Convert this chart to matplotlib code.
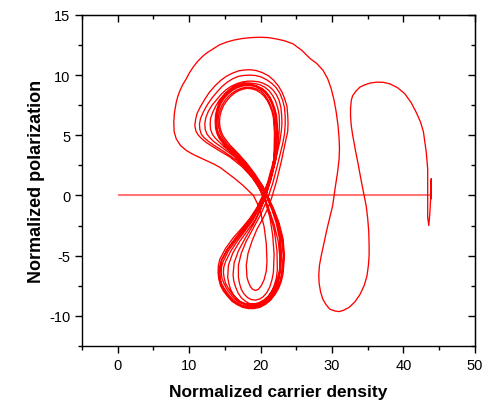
import numpy as np
import matplotlib
matplotlib.use("Agg")
import matplotlib.pyplot as plt
from matplotlib.ticker import MultipleLocator

plt.rcParams['font.family'] = ['Liberation Sans', 'DejaVu Sans']
plt.rcParams['axes.unicode_minus'] = False

# start-up: carrier density grows with no polarization
startup_n = [0.0, 43.9]
startup_p = [0.0, 0.0]

# relaxation near N~44 and the first large excursions (N, P)
transient = [
    (43.9, 0.0), (43.9, 1.4), (43.85, -0.3), (43.9, 1.2), (43.8, -0.4), (43.7, -1.5),
    (43.55, -2.5), (43.4, -1.8), (43.4, 0.0), (43.4, 2.2), (43.2, 3.6), (42.8, 5.3),
    (42.4, 6.1), (41.8, 6.9), (41.1, 7.7), (40.2, 8.45), (39.2, 8.95), (38.1, 9.28),
    (37.2, 9.4), (36.3, 9.42), (35.4, 9.35), (34.6, 9.2), (33.9, 9.0), (33.4, 8.7),
    (32.9, 8.3), (32.7, 7.9), (32.6, 7.2), (32.6, 6.6), (32.7, 5.8), (32.9, 5.0),
    (33.3, 3.7), (33.7, 2.5), (34.1, 1.2), (34.5, 0.0), (34.8, -0.9), (35.0, -1.9),
    (35.15, -3.0), (35.2, -4.15), (35.2, -5.0), (35.1, -5.8), (34.9, -6.7), (34.5, -7.5),
    (33.9, -8.25), (33.2, -8.85), (32.4, -9.3), (31.6, -9.55), (31.0, -9.65), (30.4, -9.6),
    (29.7, -9.45), (29.2, -9.1), (28.7, -8.6), (28.4, -8.0), (28.2, -7.3), (28.15, -6.6),
    (28.25, -5.8), (28.5, -5.0), (28.9, -3.9), (29.3, -2.8), (29.7, -1.8), (30.1, -0.83),
    (30.3, 0.0), (30.5, 0.83), (30.8, 2.0), (31.0, 3.05), (31.05, 3.9), (31.0, 4.7),
    (30.85, 5.8), (30.6, 6.9), (30.3, 7.9), (29.9, 8.86), (29.4, 9.7), (28.75, 10.4),
    (27.9, 10.95), (26.9, 11.4), (25.8, 12.05), (24.55, 12.6), (23.4, 12.85), (22.3, 13.0),
    (21.1, 13.12), (19.9, 13.15), (18.7, 13.12), (17.5, 13.05), (16.3, 12.92), (15.2, 12.74),
    (14.2, 12.5), (13.4, 12.2), (12.6, 11.9), (11.95, 11.6), (11.2, 11.15), (10.6, 10.7),
    (10.05, 10.2), (9.6, 9.7), (9.1, 9.2), (8.7, 8.7), (8.4, 8.2), (8.2, 7.75),
    (7.95, 6.9), (7.85, 6.1), (7.9, 5.3), (8.2, 4.7), (8.8, 4.15), (9.6, 3.74),
    (10.6, 3.4), (11.7, 3.1), (12.6, 2.85), (13.5, 2.6), (14.4, 2.3), (15.2, 1.94),
    (16.4, 1.4), (17.55, 0.83), (18.3, 0.4), (19.0, 0.0),
]

# approach to the attractor: lower loops (L) and upper loops (U)
loop_l1 = [(19.5, -0.6), (19.9, -1.2), (20.5, -2.6), (20.8, -4.0), (20.9, -5.5), (20.8, -6.3),
           (20.5, -7.0), (20.1, -7.5), (19.7, -7.8), (19.3, -7.9), (18.9, -7.8), (18.6, -7.6),
           (18.3, -7.2), (18.1, -6.8), (18.0, -5.8), (18.25, -4.8), (18.8, -3.8),
           (19.5, -2.8), (20.35, -1.9), (21.0, -1.1), (21.5, -0.3)]
loop_u1 = [(22.2, 1.1), (22.9, 2.8), (23.5, 4.5), (23.8, 5.3), (23.85, 6.0), (23.8, 6.7),
           (23.7, 7.4), (23.4, 8.0), (23.0, 8.6), (22.5, 9.1), (21.8, 9.6), (21.1, 9.95),
           (20.3, 10.2), (19.4, 10.38), (18.6, 10.45), (17.7, 10.43), (16.9, 10.35), (16.0, 10.15),
           (15.2, 9.9), (14.4, 9.55), (13.6, 9.1), (12.8, 8.55), (12.2, 8.0), (11.6, 7.4),
           (11.1, 6.8), (10.9, 6.3), (10.8, 5.8), (10.95, 5.35), (11.3, 5.0), (11.8, 4.7),
           (12.4, 4.4), (13.2, 4.1), (14.0, 3.8), (15.7, 3.2), (17.4, 2.4), (18.8, 1.5),
           (19.9, 0.5), (20.7, -0.6)]
loop_l2 = [(21.3, -1.8), (21.7, -3.3), (21.9, -4.9), (21.8, -6.4), (21.6, -7.0), (21.3, -7.6),
           (20.9, -8.05), (20.4, -8.4), (19.9, -8.6), (19.3, -8.7), (18.7, -8.65), (18.2, -8.5),
           (17.7, -8.2), (17.3, -7.8), (17.05, -7.3), (16.9, -6.8), (16.9, -5.8), (17.3, -4.8),
           (18.0, -3.8), (19.0, -2.7), (20.0, -1.6), (20.9, -0.4), (21.7, 1.0)]
loop_u2 = [(22.4, 2.6), (23.1, 4.3), (23.35, 5.1), (23.45, 5.9), (23.45, 6.6), (23.35, 7.3),
           (23.1, 7.9), (22.7, 8.5), (22.2, 8.95), (21.6, 9.3), (20.9, 9.6), (20.1, 9.85),
           (19.3, 9.97), (18.5, 10.0), (17.7, 9.98), (16.9, 9.9), (16.1, 9.7), (15.3, 9.4),
           (14.6, 9.05), (13.9, 8.6), (13.2, 8.1), (12.5, 7.5), (12.0, 6.95), (11.6, 6.4),
           (11.45, 5.95), (11.5, 5.5), (11.7, 5.1), (12.1, 4.8), (12.7, 4.5), (13.4, 4.2),
           (15.0, 3.6), (16.7, 2.9), (18.2, 2.0), (19.5, 1.0), (20.5, -0.2)]
loop_l3 = [(21.3, -1.5), (21.95, -3.0), (22.3, -4.6), (22.35, -6.2), (22.2, -6.9), (21.9, -7.5),
           (21.5, -8.05), (21.0, -8.5), (20.4, -8.8), (19.8, -9.0), (19.1, -9.05), (18.5, -9.0),
           (17.9, -8.8), (17.3, -8.5), (16.85, -8.1), (16.5, -7.6), (16.25, -7.1), (16.15, -6.6),
           (16.3, -5.6), (16.9, -4.6), (17.9, -3.5), (19.0, -2.4), (19.9, -1.3), (20.7, -0.1),
           (21.4, 1.3)]
loop_u3 = [(22.1, 2.9), (22.7, 4.5), (22.9, 5.3), (23.0, 6.0), (22.95, 6.7), (22.85, 7.3),
           (22.6, 7.9), (22.2, 8.4), (21.7, 8.8), (21.1, 9.1), (20.4, 9.32), (19.7, 9.45),
           (18.9, 9.5), (18.2, 9.5), (17.4, 9.43), (16.7, 9.3), (15.9, 9.08), (15.2, 8.8),
           (14.5, 8.42), (13.9, 8.0), (13.2, 7.5), (12.7, 7.0), (12.35, 6.5), (12.2, 6.0),
           (12.25, 5.5), (12.5, 5.1), (12.9, 4.8), (13.4, 4.5), (14.8, 3.9), (16.4, 3.2),
           (17.9, 2.3), (19.2, 1.3), (20.3, 0.2)]
loop_l4 = [(21.1, -1.0), (21.9, -2.4), (22.5, -3.9), (22.75, -5.4), (22.6, -6.8), (22.3, -7.45),
           (21.9, -8.0), (21.4, -8.45), (20.8, -8.8), (20.1, -9.05), (19.4, -9.15), (18.7, -9.17),
           (18.0, -9.1), (17.3, -8.9), (16.7, -8.6), (16.2, -8.25), (15.8, -7.8), (15.55, -7.3),
           (15.4, -6.8), (15.5, -5.8), (16.1, -4.8), (17.1, -3.8), (18.2, -2.9), (19.3, -2.0),
           (20.1, -1.0), (20.8, 0.1), (21.5, 1.4)]
loop_u4 = [(22.1, 2.9), (22.5, 4.5), (22.6, 5.3), (22.65, 6.0), (22.6, 6.7), (22.4, 7.3),
           (22.1, 7.85), (21.7, 8.3), (21.2, 8.7), (20.6, 9.0), (19.9, 9.2), (19.2, 9.3),
           (18.4, 9.35), (17.7, 9.35), (16.9, 9.22), (16.2, 9.05), (15.5, 8.75), (14.9, 8.4),
           (14.2, 7.9), (13.7, 7.4), (13.3, 6.9), (13.0, 6.4), (12.95, 5.9), (13.0, 5.5),
           (13.25, 5.1), (13.6, 4.8), (14.8, 4.1), (16.2, 3.4), (17.6, 2.6), (18.9, 1.7),
           (20.1, 0.6)]

# settled figure-eight band
cycle_a = [(21.2, -0.3), (21.9, -1.2), (22.6, -2.3), (23.15, -3.6), (23.35, -5.0), (23.15, -6.5),
           (22.9, -7.15), (22.55, -7.7), (22.0, -8.25), (21.4, -8.7), (20.7, -9.05), (19.9, -9.3),
           (19.1, -9.4), (18.3, -9.4), (17.5, -9.3), (16.8, -9.1), (16.0, -8.8), (15.4, -8.4),
           (14.8, -7.95), (14.4, -7.5), (14.15, -6.95), (14.05, -6.4), (14.1, -5.8), (14.3, -5.3),
           (15.1, -4.4), (16.2, -3.5), (17.4, -2.7), (18.5, -1.9), (19.5, -1.0), (20.3, 0.0),
           (21.0, 1.1), (21.6, 2.4), (22.2, 3.8), (22.4, 5.2), (22.25, 6.6), (22.0, 7.2),
           (21.7, 7.7), (21.3, 8.2), (20.8, 8.6), (20.2, 8.9), (19.5, 9.1), (18.8, 9.22),
           (18.0, 9.25), (17.2, 9.2), (16.5, 9.05), (15.8, 8.8), (15.2, 8.5), (14.65, 8.12),
           (14.2, 7.7), (13.9, 7.2), (13.7, 6.7), (13.65, 6.15), (13.7, 5.6), (13.9, 5.15),
           (14.2, 4.75), (15.1, 4.05), (16.3, 3.35), (17.6, 2.6), (18.9, 1.7), (20.1, 0.7)]
cycle_b = [(21.1, -0.3), (21.8, -1.2), (22.5, -2.3), (23.05, -3.6), (23.25, -5.0), (23.05, -6.45),
           (22.8, -7.1), (22.45, -7.65), (21.95, -8.2), (21.35, -8.65), (20.65, -9.0), (19.9, -9.2),
           (19.15, -9.3), (18.4, -9.3), (17.6, -9.2), (16.85, -9.05), (16.1, -8.75), (15.5, -8.35),
           (14.95, -7.9), (14.5, -7.45), (14.35, -6.9), (14.3, -6.4), (14.4, -5.85), (14.6, -5.35),
           (15.4, -4.45), (16.5, -3.6), (17.7, -2.75), (18.8, -1.9), (19.65, -1.0), (20.4, 0.0),
           (21.1, 1.1), (21.7, 2.4), (22.1, 3.8), (22.3, 5.2), (22.2, 6.55), (21.95, 7.15),
           (21.65, 7.65), (21.25, 8.15), (20.75, 8.55), (20.15, 8.85), (19.5, 9.05), (18.75, 9.17),
           (18.0, 9.2), (17.3, 9.15), (16.6, 9.0), (15.9, 8.75), (15.3, 8.45), (14.75, 8.08),
           (14.3, 7.65), (14.0, 7.15), (13.85, 6.65), (13.8, 6.1), (13.85, 5.6), (14.05, 5.15),
           (14.35, 4.8), (15.25, 4.1), (16.45, 3.4), (17.75, 2.6), (18.95, 1.7), (20.15, 0.7)]
cycle_c = [(21.1, -0.3), (21.8, -1.2), (22.5, -2.3), (23.0, -3.6), (23.2, -5.0), (23.0, -6.4),
           (22.75, -7.05), (22.4, -7.6), (21.9, -8.15), (21.3, -8.6), (20.6, -8.95), (19.9, -9.15),
           (19.15, -9.27), (18.4, -9.3), (17.6, -9.18), (16.9, -9.0), (16.2, -8.7), (15.6, -8.3),
           (15.05, -7.85), (14.6, -7.4), (14.3, -6.9), (14.2, -6.4), (14.3, -5.9), (14.5, -5.4),
           (15.3, -4.5), (16.4, -3.6), (17.6, -2.7), (18.7, -1.9), (19.6, -1.0), (20.4, 0.0),
           (21.1, 1.1), (21.7, 2.4), (22.1, 3.8), (22.25, 5.2), (22.1, 6.5), (21.9, 7.05),
           (21.6, 7.6), (21.2, 8.1), (20.7, 8.5), (20.1, 8.8), (19.5, 9.0), (18.8, 9.12),
           (18.1, 9.15), (17.4, 9.08), (16.7, 8.95), (16.0, 8.7), (15.4, 8.4), (14.85, 8.02),
           (14.4, 7.6), (14.1, 7.1), (13.9, 6.6), (13.85, 6.1), (13.9, 5.6), (14.1, 5.15),
           (14.4, 4.8), (15.3, 4.1), (16.5, 3.4), (17.8, 2.6), (19.0, 1.7), (20.2, 0.7)]
cycle_d = [(21.0, -0.3), (21.7, -1.2), (22.35, -2.3), (22.8, -3.6), (22.95, -5.0), (22.8, -6.3),
           (22.55, -6.95), (22.2, -7.5), (21.75, -8.02), (21.2, -8.45), (20.55, -8.78), (19.9, -9.0),
           (19.2, -9.12), (18.5, -9.15), (17.75, -9.05), (17.0, -8.9), (16.35, -8.6), (15.8, -8.2),
           (15.3, -7.8), (14.9, -7.35), (14.6, -6.9), (14.5, -6.4), (14.55, -5.9), (14.8, -5.45),
           (15.5, -4.6), (16.6, -3.7), (17.8, -2.8), (18.9, -1.95), (19.75, -1.0), (20.5, 0.0),
           (21.2, 1.1), (21.75, 2.4), (22.0, 3.8), (22.05, 5.2), (21.9, 6.5), (21.7, 7.0),
           (21.4, 7.5), (21.05, 7.95), (20.6, 8.35), (20.1, 8.65), (19.5, 8.85), (18.8, 8.97),
           (18.1, 9.0), (17.45, 8.93), (16.8, 8.8), (16.2, 8.58), (15.6, 8.3), (15.05, 7.92),
           (14.6, 7.5), (14.3, 7.05), (14.1, 6.6), (14.05, 6.1), (14.15, 5.6), (14.35, 5.2),
           (14.6, 4.85), (15.5, 4.15), (16.7, 3.45), (17.95, 2.65), (19.1, 1.75), (20.3, 0.7)]
cycle_e = [(21.0, -0.3), (21.6, -1.2), (22.2, -2.3), (22.65, -3.6), (22.8, -5.0), (22.65, -6.25),
           (22.4, -6.85), (22.1, -7.4), (21.65, -7.9), (21.1, -8.35), (20.5, -8.67), (19.8, -8.9),
           (19.15, -9.02), (18.5, -9.05), (17.8, -8.97), (17.1, -8.8), (16.5, -8.5), (15.95, -8.1),
           (15.5, -7.72), (15.1, -7.3), (14.9, -6.85), (14.8, -6.4), (14.85, -5.95), (15.1, -5.5),
           (15.8, -4.65), (16.8, -3.75), (17.95, -2.85), (19.0, -2.0), (19.85, -1.05), (20.55, 0.0),
           (21.25, 1.1), (21.8, 2.4), (21.9, 3.8), (21.95, 5.2), (21.8, 6.45), (21.6, 6.97),
           (21.3, 7.45), (20.95, 7.88), (20.5, 8.25), (20.0, 8.53), (19.4, 8.75), (18.75, 8.87),
           (18.1, 8.9), (17.5, 8.83), (16.9, 8.7), (16.3, 8.48), (15.75, 8.2), (15.25, 7.85),
           (14.8, 7.45), (14.5, 7.0), (14.3, 6.55), (14.25, 6.05), (14.35, 5.6), (14.55, 5.22),
           (14.8, 4.9), (15.7, 4.2), (16.85, 3.5), (18.05, 2.7), (19.2, 1.8), (20.35, 0.75)]

segments = [transient, loop_l1, loop_u1, loop_l2, loop_u2, loop_l3, loop_u3, loop_l4, loop_u4,
            cycle_a, cycle_b, cycle_c, cycle_d, cycle_e, cycle_a[:1]]
traj = np.array([pt for seg in segments for pt in seg])

fig = plt.figure(figsize=(4.88, 4.10), dpi=100)
ax = fig.add_axes([0.168, 0.154, 0.805, 0.807])

ax.plot(startup_n, startup_p, color='#ff3030', lw=1.5, alpha=0.65, solid_capstyle='butt')
ax.plot(traj[:, 0], traj[:, 1], color='red', lw=0.95, solid_joinstyle='round')

ax.set_xlim(-5, 50)
ax.set_ylim(-12.5, 15)
ax.xaxis.set_major_locator(MultipleLocator(10))
ax.xaxis.set_minor_locator(MultipleLocator(5))
ax.yaxis.set_major_locator(MultipleLocator(5))
ax.yaxis.set_minor_locator(MultipleLocator(2.5))
ax.tick_params(which='both', direction='out', labelsize=10.5, width=1, colors='black')
ax.tick_params(which='major', length=5)
ax.tick_params(which='minor', length=3)

# mirrored ticks pointing inward on top and right
top = ax.secondary_xaxis('top')
top.xaxis.set_major_locator(MultipleLocator(10))
top.xaxis.set_minor_locator(MultipleLocator(5))
top.tick_params(which='both', direction='in', labeltop=False, width=1)
top.tick_params(which='major', length=5)
top.tick_params(which='minor', length=3)
right = ax.secondary_yaxis('right')
right.yaxis.set_major_locator(MultipleLocator(5))
right.yaxis.set_minor_locator(MultipleLocator(2.5))
right.tick_params(which='both', direction='in', labelright=False, width=1)
right.tick_params(which='major', length=5)
right.tick_params(which='minor', length=3)

for sp in ax.spines.values():
    sp.set_linewidth(1)

ax.set_xlabel('Normalized carrier density', fontsize=12.5, fontweight='bold', labelpad=9)
ax.set_ylabel('Normalized polarization', fontsize=13, fontweight='bold', labelpad=3)

fig.savefig('out.png', dpi=100)
